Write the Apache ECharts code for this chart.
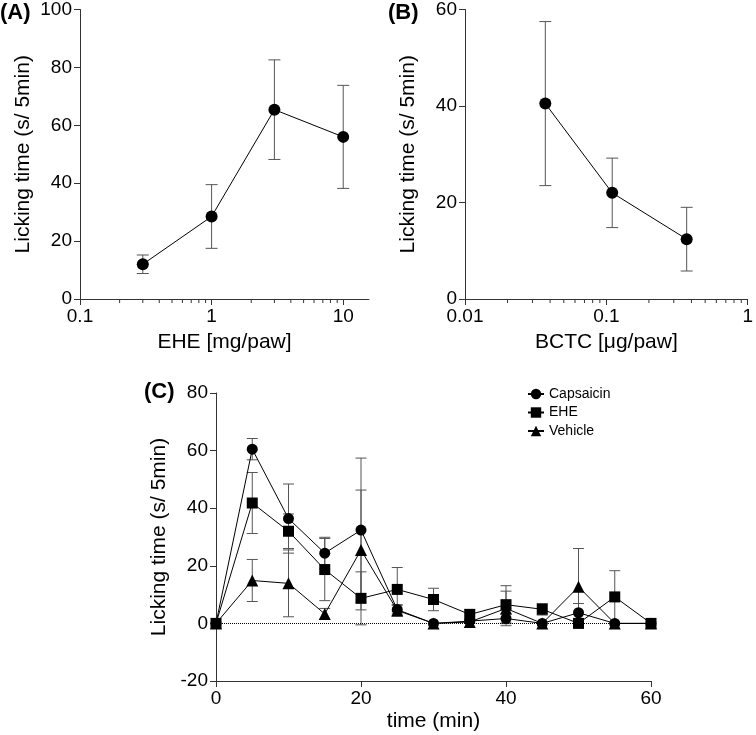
<!DOCTYPE html>
<html>
<head>
<meta charset="utf-8">
<script src="https://cdn.jsdelivr.net/npm/echarts@6/dist/echarts.min.js"></script>
<style>
  html, body { margin: 0; padding: 0; background: #fff; }
  #chart { width: 756px; height: 735px; }
</style>
</head>
<body>
<div id="chart"></div>
<script>
// panel A - EHE dose response
const doseA = [0.3, 1, 3, 10]
const meanA = [12, 28.5, 65.4, 56]
const semA = [3.2, 11, 17.2, 17.8]

// panel B - BCTC dose response
const doseB = [0.037, 0.11, 0.37]
const meanB = [40.5, 22, 12.4]
const semB = [17, 7.2, 6.6]

// panel C - time course
const time = [0, 5, 10, 15, 20, 25, 30, 35, 40, 45, 50, 55, 60]
const capMean = [0, 60.5, 36.4, 24.4, 32.4, 4.8, 0, 0.8, 1.7, 0, 3.7, 0, 0]
const capErr = [0, 3.7, 12, 5.5, 25, 1.5, 0, 0.5, 1.5, 0, 3.2, 0, 0]
const eheMean = [0, 41.8, 32, 18.7, 8.7, 11.8, 8.3, 3.1, 6.5, 4.9, 0, 9.2, 0]
const eheErr = [0, 10.6, 6, 10.8, 9.2, 7.6, 3.9, 1.8, 6.6, 2, 0, 9.1, 0]
const vehMean = [0, 14.9, 13.9, 3.3, 25.5, 4.5, 0, 0.5, 5.2, 0, 12.7, 0, 0]
const vehErr = [0, 7.3, 11.6, 1.9, 20.8, 2, 0, 0.5, 6, 0, 13.3, 0, 0]

const majorA = [0.1, 1, 10]
const minorA = [0.2, 0.3, 0.4, 0.5, 0.6, 0.7, 0.8, 0.9, 2, 3, 4, 5, 6, 7, 8, 9]
const majorB = [0.01, 0.1, 1]
const minorB = [0.02, 0.03, 0.04, 0.05, 0.06, 0.07, 0.08, 0.09, 0.2, 0.3, 0.4, 0.5, 0.6, 0.7, 0.8, 0.9]

const FONT = "'Liberation Sans', Arial, sans-serif"
const AXIS_COLOR = "#333"
const BAR_COLOR = "#555"
const yTitle = "Licking time (s/ 5min)"

const chart = echarts.init(document.getElementById("chart"), null, { renderer: "canvas" })

function lineStyleAxis() {
    return { show: true, onZero: false, lineStyle: { color: AXIS_COLOR, width: 1 } }
}

function logAxis(grid, min, max, ticks, name) {
    return {
        type: "log", gridIndex: grid, position: "bottom", min: min, max: max,
        name: name, nameLocation: "middle", nameGap: 33,
        nameTextStyle: { fontFamily: FONT, fontSize: 21, color: "#000" },
        axisLine: lineStyleAxis(),
        axisTick: { show: true, length: 6, customValues: ticks, lineStyle: { color: AXIS_COLOR } },
        axisLabel: { customValues: ticks, fontFamily: FONT, fontSize: 19, color: "#000", margin: 8,
            formatter: v => String(+v.toPrecision(3)) },
        splitLine: { show: false }
    }
}

function valueYAxis(grid, min, max) {
    return {
        type: "value", gridIndex: grid, min: min, max: max, interval: 20,
        name: yTitle, nameLocation: "middle", nameGap: 46,
        nameTextStyle: { fontFamily: FONT, fontSize: 21, color: "#000" },
        axisLine: lineStyleAxis(),
        axisTick: { show: true, length: 6, lineStyle: { color: AXIS_COLOR } },
        axisLabel: { fontFamily: FONT, fontSize: 19, color: "#000", margin: 8 },
        splitLine: { show: false }
    }
}

// short log minor ticks hanging under the x axis line (y = 0 is the axis bottom)
function minorTicks(xi, yi, values) {
    return {
        type: "custom", xAxisIndex: xi, yAxisIndex: yi, z: 1, silent: true, clip: false,
        data: values.map(v => [v, 0]),
        renderItem: function (params, api) {
            const p = api.coord([api.value(0), 0])
            return {
                type: "line",
                shape: { x1: p[0], y1: p[1], x2: p[0], y2: p[1] + 4 },
                style: { stroke: AXIS_COLOR, lineWidth: 1 }
            }
        }
    }
}

function errorBars(xi, yi, xs, means, errs, capW) {
    return {
        type: "custom", xAxisIndex: xi, yAxisIndex: yi, z: 1, silent: true,
        data: xs.map((x, i) => [x, means[i] - errs[i], means[i] + errs[i], errs[i]]),
        renderItem: function (params, api) {
            if (api.value(3) <= 0) return { type: "group", children: [] }
            const lo = api.coord([api.value(0), api.value(1)])
            const hi = api.coord([api.value(0), api.value(2)])
            const st = { stroke: BAR_COLOR, lineWidth: 1 }
            const h = capW / 2
            return {
                type: "group",
                children: [
                    { type: "line", shape: { x1: lo[0], y1: lo[1], x2: hi[0], y2: hi[1] }, style: st },
                    { type: "line", shape: { x1: hi[0] - h, y1: hi[1], x2: hi[0] + h, y2: hi[1] }, style: st },
                    { type: "line", shape: { x1: lo[0] - h, y1: lo[1], x2: lo[0] + h, y2: lo[1] }, style: st }
                ]
            }
        }
    }
}

function lineSeries(name, xi, yi, xs, ys, symbol, size) {
    return {
        type: "line", name: name, xAxisIndex: xi, yAxisIndex: yi, z: 3,
        data: xs.map((x, i) => [x, ys[i]]),
        symbol: symbol, symbolSize: size, showAllSymbol: true,
        itemStyle: { color: "#000" },
        lineStyle: { color: "#000", width: 1 },
        emphasis: { disabled: true }
    }
}

const capLine = lineSeries("Capsaicin", 2, 2, time, capMean, "circle", 11)
capLine.markLine = {
    silent: true, symbol: ["none", "none"], label: { show: false },
    lineStyle: { color: "#000", width: 1, type: "dotted" },
    data: [{ yAxis: 0 }]
}

const option = {
    animation: false,
    backgroundColor: "#fff",
    textStyle: { fontFamily: FONT },
    grid: [
        { left: 80, top: 9, width: 289, height: 290 },
        { left: 465, top: 9, width: 289, height: 290 },
        { left: 216, top: 393, width: 435, height: 288 }
    ],
    xAxis: [
        logAxis(0, 0.1, 15.7, majorA, "EHE [mg/paw]"),
        logAxis(1, 0.01, 1, majorB, "BCTC [\u03bcg/paw]"),
        {
            type: "value", gridIndex: 2, min: 0, max: 60, interval: 20,
            name: "time (min)", nameLocation: "middle", nameGap: 30,
            nameTextStyle: { fontFamily: FONT, fontSize: 21, color: "#000" },
            axisLine: lineStyleAxis(),
            axisTick: { show: true, length: 6, lineStyle: { color: AXIS_COLOR } },
            axisLabel: { fontFamily: FONT, fontSize: 19, color: "#000", margin: 8 },
            splitLine: { show: false }
        }
    ],
    yAxis: [
        valueYAxis(0, 0, 100),
        valueYAxis(1, 0, 60),
        valueYAxis(2, -20, 80)
    ],
    legend: {
        data: ["Capsaicin", "EHE", "Vehicle"],
        orient: "vertical", left: 522, top: 382,
        itemWidth: 16, itemHeight: 13, itemGap: 4.5,
        textStyle: { fontFamily: FONT, fontSize: 14, color: "#000" }
    },
    graphic: [
        { type: "text", left: 0, top: 2, style: { text: "(A)", font: "bold 22px " + FONT, fill: "#000" } },
        { type: "text", left: 388, top: 2, style: { text: "(B)", font: "bold 22px " + FONT, fill: "#000" } },
        { type: "text", left: 144, top: 381, style: { text: "(C)", font: "bold 22px " + FONT, fill: "#000" } }
    ],
    series: [
        minorTicks(0, 0, minorA),
        minorTicks(1, 1, minorB),
        errorBars(0, 0, doseA, meanA, semA, 12),
        lineSeries("EHE dose", 0, 0, doseA, meanA, "circle", 12),
        errorBars(1, 1, doseB, meanB, semB, 12),
        lineSeries("BCTC dose", 1, 1, doseB, meanB, "circle", 12),
        errorBars(2, 2, time, capMean, capErr, 11),
        errorBars(2, 2, time, eheMean, eheErr, 11),
        errorBars(2, 2, time, vehMean, vehErr, 11),
        capLine,
        lineSeries("EHE", 2, 2, time, eheMean, "rect", 11),
        lineSeries("Vehicle", 2, 2, time, vehMean, "triangle", 12)
    ]
}

chart.setOption(option)
</script>
</body>
</html>
